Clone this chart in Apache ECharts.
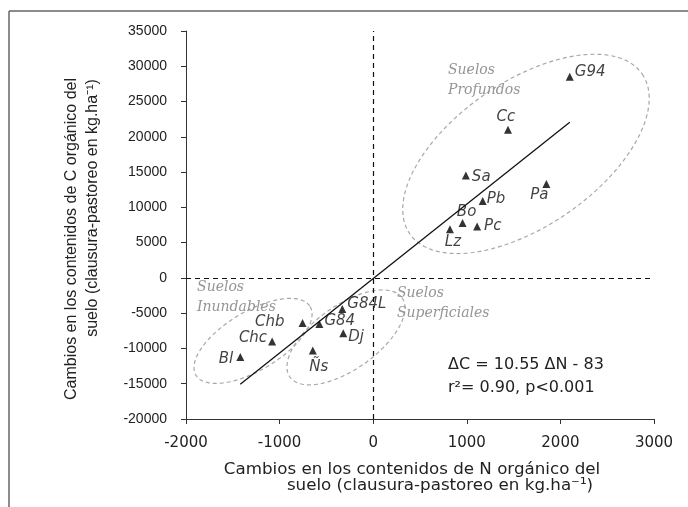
<!DOCTYPE html>
<html>
<head>
<meta charset="utf-8">
<script src="https://cdn.jsdelivr.net/npm/echarts@6/dist/echarts.min.js"></script>
<style>
html,body{margin:0;padding:0;background:#fff;}
#chart{width:688px;height:507px;}
</style>
</head>
<body>
<div id="chart"></div>
<script>
// ---- data ----
const siteNames = ['G94','Cc','Sa','Pb','Pa','Bo','Pc','Lz','G84L','G84','Chb','Chc','Dj','Ñs','Bl'];
const deltaN = [2100, 1440, 990, 1170, 1850, 955, 1110, 820, -330, -575, -755, -1080, -320, -645, -1420];
const deltaC = [28500, 21000, 14500, 10900, 13300, 7800, 7300, 6900, -4400, -6550, -6400, -9000, -7850, -10300, -11200];

const xTickMin = -2000, xTickMax = 3000, xTickStep = 1000;
const yTickMin = -20000, yTickMax = 35000, yTickStep = 5000;

const regSlope = 10.55;
const regIntercept = -83;
const equationLine1 = 'ΔC = 10.55 ΔN - 83';
const equationLine2 = 'r²= 0.90, p<0.001';

// soil groups (ellipses): centre, end of major axis, minor/major ratio, label anchor
const zoneNames = ['Suelos\nProfundos', 'Suelos\nInundables', 'Suelos\nSuperficiales'];
const zoneCenterN = [1632, -1284, -291];
const zoneCenterC = [17580, -8930, -8435];
const zoneAxisEndN = [2874, -674, 308];
const zoneAxisEndC = [28900, -4070, -2820];
const zoneRatio = [0.513, 0.44, 0.466];
const zoneLabelN = [799, -1882, 254];
const zoneLabelC = [28070, -2690, -3545];

const xTitle1 = 'Cambios en los contenidos de N orgánico del';
const xTitle2 = 'suelo (clausura-pastoreo en kg.ha⁻¹)';
const yTitle1 = 'Cambios en los contenidos de C orgánico del';
const yTitle2 = 'suelo (clausura-pastoreo en kg.ha⁻¹)';

// ---- label placement (style) ----
const labelPlacement = {
  'G94':  {position:'right', distance:1, offset:[0,-5]},
  'Cc':   {position:'top', distance:1, offset:[-2,0]},
  'Sa':   {position:'right', distance:2, offset:[0,1]},
  'Pb':   {position:'right', distance:0, offset:[0,-2]},
  'Pa':   {position:'bottom', distance:0, offset:[-7,0]},
  'Bo':   {position:'top', distance:0, offset:[4,1]},
  'Pc':   {position:'right', distance:3, offset:[0,0]},
  'Lz':   {position:'bottom', distance:1, offset:[3,0]},
  'G84L': {position:'right', distance:1, offset:[0,-5]},
  'G84':  {position:'right', distance:1, offset:[0,-3]},
  'Chb':  {position:'left', distance:14, offset:[0,-1]},
  'Chc':  {position:'left', distance:1, offset:[0,-3]},
  'Dj':   {position:'right', distance:1, offset:[0,4]},
  'Ñs':   {position:'bottom', distance:5, offset:[6,0]},
  'Bl':   {position:'left', distance:3, offset:[0,2]}
};

const scatterData = siteNames.map((n, i) => {
  const p = labelPlacement[n];
  return {
    name: n,
    value: [deltaN[i], deltaC[i]],
    label: {position: p.position, distance: p.distance, offset: p.offset}
  };
});

const minN = Math.min.apply(null, deltaN);
const maxN = Math.max.apply(null, deltaN);
const regData = [[minN, regSlope * minN + regIntercept], [maxN, regSlope * maxN + regIntercept]];

const zoneData = zoneNames.map((n, i) => ({
  name: n,
  value: [zoneCenterN[i], zoneCenterC[i], zoneAxisEndN[i], zoneAxisEndC[i], zoneRatio[i], zoneLabelN[i], zoneLabelC[i]]
}));

const chart = echarts.init(document.getElementById('chart'), null, {renderer:'canvas'});

const axisLineStyle = {color:'#333', width:1};

chart.setOption({
  animation: false,
  backgroundColor: '#fff',
  grid: {left:186, right:34, top:31, bottom:88, containLabel:false},
  xAxis: {
    type:'value', min:xTickMin, max:xTickMax, interval:xTickStep,
    axisLine:{show:true, onZero:false, lineStyle:axisLineStyle},
    axisTick:{show:true, inside:false, length:5, lineStyle:axisLineStyle},
    splitLine:{show:false},
    axisLabel:{margin:17, color:'#222', fontFamily:'DejaVu Sans', fontSize:15, formatter: v => String(v)}
  },
  yAxis: {
    type:'value', min:yTickMin, max:yTickMax, interval:yTickStep,
    axisLine:{show:true, onZero:false, lineStyle:axisLineStyle},
    axisTick:{show:true, inside:false, length:5, lineStyle:axisLineStyle},
    splitLine:{show:false},
    axisLabel:{margin:19, color:'#222', fontFamily:'Liberation Sans', fontSize:14, formatter: v => String(v)}
  },
  series: [
    {
      type:'custom',
      name:'zones',
      silent:true,
      z:1,
      data: zoneData,
      encode:{x:[0,2,5], y:[1,3,6]},
      renderItem: function(params, api){
        const c = api.coord([api.value(0), api.value(1)]);
        const e = api.coord([api.value(2), api.value(3)]);
        const ratio = api.value(4);
        const lp = api.coord([api.value(5), api.value(6)]);
        const dx = e[0]-c[0], dy = e[1]-c[1];
        const a = Math.sqrt(dx*dx+dy*dy);
        const b = a*ratio;
        const ang = Math.atan2(dy, dx);
        const pts = [];
        for (let k=0;k<120;k++){
          const t = k/120*Math.PI*2;
          const ux = a*Math.cos(t), uy = b*Math.sin(t);
          pts.push([c[0]+ux*Math.cos(ang)-uy*Math.sin(ang), c[1]+ux*Math.sin(ang)+uy*Math.cos(ang)]);
        }
        return {
          type:'group',
          children:[
            {type:'polygon', shape:{points:pts}, style:{fill:null, stroke:'#a8a8a8', lineWidth:1.2, lineDash:[4,3]}},
            {type:'text', x:lp[0], y:lp[1], style:{
              text: zoneNames[params.dataIndex],
              fill:'#959595', fontFamily:'DejaVu Serif', fontStyle:'italic', fontSize:14,
              lineHeight:20, align:'left', verticalAlign:'middle'
            }}
          ]
        };
      }
    },
    {
      type:'line',
      name:'regression',
      silent:true,
      z:2,
      data: regData,
      showSymbol:false,
      symbol:'none',
      lineStyle:{color:'#111', width:1.3},
      markLine:{
        silent:true,
        symbol:['none','none'],
        label:{show:false},
        lineStyle:{color:'#111', type:[5,4], width:1.2},
        data:[{xAxis:0},{yAxis:0}]
      }
    },
    {
      type:'scatter',
      name:'sites',
      z:3,
      symbol:'triangle',
      symbolSize:8,
      itemStyle:{color:'#000'},
      data: scatterData,
      label:{
        show:true,
        formatter:'{b}',
        color:'#111',
        fontFamily:'DejaVu Sans',
        fontStyle:'italic',
        fontSize:15
      }
    }
  ],
  graphic: [
    {type:'line', shape:{x1:9, y1:11, x2:688, y2:11}, style:{stroke:'#666', lineWidth:1.5}, silent:true},
    {type:'line', shape:{x1:9, y1:11, x2:9, y2:507}, style:{stroke:'#666', lineWidth:1.5}, silent:true},
    {type:'text', x:72, y:239, rotation:Math.PI/2, style:{text:yTitle1, fill:'#222', fontFamily:'Liberation Sans', fontSize:16, align:'center', verticalAlign:'middle'}},
    {type:'text', x:93, y:208, rotation:Math.PI/2, style:{text:yTitle2, fill:'#222', fontFamily:'Liberation Sans', fontSize:16, align:'center', verticalAlign:'middle'}},
    {type:'text', x:412, y:470, style:{text:xTitle1, fill:'#222', fontFamily:'DejaVu Sans', fontSize:16.7, align:'center', verticalAlign:'middle'}},
    {type:'text', x:440, y:486, style:{text:xTitle2, fill:'#222', fontFamily:'DejaVu Sans', fontSize:16.7, align:'center', verticalAlign:'middle'}},
    {type:'text', x:448, y:365, style:{text:equationLine1, fill:'#222', fontFamily:'DejaVu Sans', fontSize:16, align:'left', verticalAlign:'middle'}},
    {type:'text', x:448, y:388, style:{text:equationLine2, fill:'#222', fontFamily:'DejaVu Sans', fontSize:16, align:'left', verticalAlign:'middle'}}
  ]
});
</script>
</body>
</html>
